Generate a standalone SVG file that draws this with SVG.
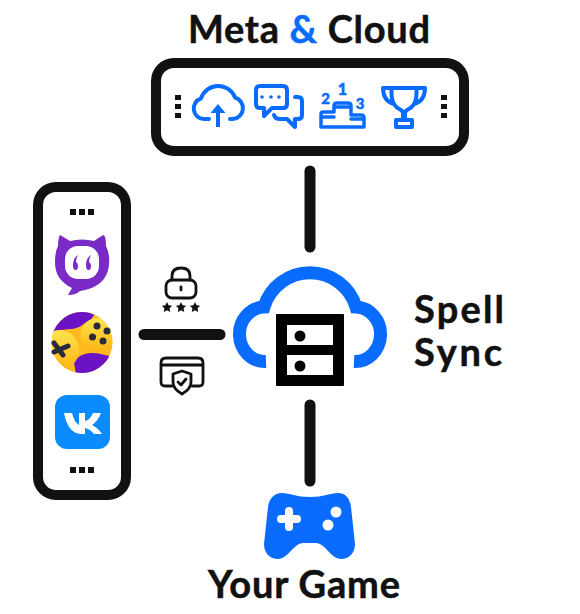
<svg xmlns="http://www.w3.org/2000/svg" width="580" height="614" viewBox="0 0 580 614">
<style>
.t{font-family:"Lato","Liberation Sans",sans-serif;font-weight:700;fill:#111;font-size:38px;stroke:#111;stroke-width:.5}
.box{fill:#fff;stroke:#111;stroke-width:10}
.c{stroke:#111;stroke-width:11;stroke-linecap:round;fill:none}
.b{fill:none;stroke:#0a6cff;stroke-width:4;stroke-linecap:round;stroke-linejoin:round}
.k{fill:none;stroke:#111;stroke-width:2.800;stroke-linecap:round;stroke-linejoin:round}
.d{fill:#111}
.n{font-family:"Lato","Liberation Sans",sans-serif;font-weight:900;font-size:15px;fill:#0a6cff;stroke:#0a6cff;stroke-width:.5;text-anchor:middle}
</style>
<defs>
<clipPath id="gc"><circle cx="82" cy="342.500" r="30.500"/></clipPath>
<linearGradient id="y1" x1="0" y1="0" x2="0" y2="1"><stop offset="0" stop-color="#ffe34d"/><stop offset="1" stop-color="#ffb414"/></linearGradient>
</defs>
<rect width="580" height="614" fill="#fff"/>
<g id="connectors">
<path class="c" d="M310 171V247M144 334.500H220M310 405V481"/>
</g>
<g id="meta-cloud">
<text class="t" x="188" y="43" textLength="242" lengthAdjust="spacing">Meta <tspan fill="#0a6cff" stroke="#0a6cff">&amp;</tspan> Cloud</text>
<rect class="box" x="156" y="63" width="308" height="88" rx="18"/>
<path class="d" d="M175 95h6v5h-6zM175 104h6v5h-6zM175 113h6v5h-6zM441 95h6v5h-6zM441 104h6v5h-6zM441 113h6v5h-6z"/>
<g id="icon-upload"><path class="b" d="M209 119H204A10.500 10.500 0 0 1 201 98.500A18 18 0 0 1 235 97.500A11 11 0 0 1 233 119H230"/><path class="b" style="stroke-linecap:butt" d="M218 127V110"/><path fill="#0a6cff" d="M218 104L225.500 113H210.500Z"/></g>
<g id="icon-chat"><path class="b" d="M260 86H283Q287 86 287 90V104Q287 108 283 108H272L264 116V108H260Q256 108 256 104V90Q256 86 260 86Z"/><path class="b" d="M295 97H298Q302 97 302 101V115Q302 119 298 119H295V127L287 119H280Q275 119 274 115"/><circle cx="262" cy="97" r="1.800" fill="#0a6cff"/><circle cx="271" cy="97" r="1.800" fill="#0a6cff"/><circle cx="279" cy="97" r="1.800" fill="#0a6cff"/></g>
<g id="icon-podium"><path class="b" style="stroke-width:3.500" d="M321 127V114Q321 112 323 112H334V106Q334 103 337 103H348Q351 103 351 106V115H361Q364 115 364 118V127ZM321 117H334M351 119H364M336 107H349"/><text class="n" x="342.500" y="95" style="font-size:16px">1</text><text class="n" x="325.500" y="104">2</text><text class="n" x="360" y="109">3</text></g>
<g id="icon-trophy"><path class="b" d="M383 88H425Q425 101 414 104M383 88Q383 101 394 104M391.500 88V94Q391.500 106 401 110L403 112V120M416.500 88V94Q416.500 106 407 110L405 112V120M396 120H412V127H396Z"/></g>
</g>
<g id="sources">
<rect class="box" x="38" y="187" width="88" height="308" rx="18"/>
<path class="d" d="M70 209h6v6h-6zM79 209h6v6h-6zM88 209h6v6h-6zM70 467h6v6h-6zM79 467h6v6h-6zM88 467h6v6h-6z"/>
<g id="app-cat"><path fill="#7a2bc7" d="M60 235L70 241Q82 238 94 241L103 235Q106 235 106 246Q110 254 109 264C108 282 94 289 80 291Q76 295 68 295L72 288C60 282 55 274 55 262Q55 252 58 246Q58 238 60 235Z"/><rect x="65" y="246" width="34" height="33" rx="13" fill="#fff"/><path fill="#7a2bc7" d="M78 255Q73 258 73 265Q73 270 75.500 270Q78 270 78 266Q78 263 76 262Q76 258 78 255ZM91 255Q86 258 86 265Q86 270 88.500 270Q91 270 91 266Q91 263 89 262Q89 258 91 255Z"/></g>
<g id="app-game"><g clip-path="url(#gc)"><rect x="50" y="310" width="64" height="65" fill="#ffb81f"/><path fill="#6a12c4" d="M50 333L52 310H96Q92 322 85 323Q78 329 70 329Q60 329 50 333Z"/><path fill="#6a12c4" d="M76 375L74 362Q78 356 85 354Q96 351 114 358V375Z"/><circle cx="59" cy="350" r="20" fill="url(#y1)"/><circle cx="97.500" cy="335" r="17" fill="url(#y1)"/></g><path stroke="#2a2a3a" stroke-width="5" stroke-linecap="round" d="M54 343L63 355M68 346L54 352"/><g fill="#2a2a3a"><circle cx="97" cy="326" r="3.500"/><circle cx="107" cy="331" r="3.500"/><circle cx="92.500" cy="337" r="3.500"/><circle cx="103" cy="341" r="3.500"/></g></g>
<g id="app-vk"><rect x="55" y="395" width="55" height="54" rx="12" fill="#0a8cff"/><path fill="#fff" d="M64 413H72Q74 422 79 425V413H85V421Q90 420 93 413H101Q98 421 92 425Q98 428 102 434H94Q90 429 85 428V434H82Q68 434 64 413Z"/></g>
</g>
<g id="auth-lock"><path class="k" d="M172 280V276Q172 268 181 268Q190 268 190 276V280"/><rect class="k" x="166" y="280" width="30" height="18" rx="6"/><path class="k" d="M181 287V290"/><g class="d"><path d="M167 302l1.600 3.300 3.600.5-2.600 2.500.6 3.600-3.200-1.700-3.200 1.700.6-3.600-2.600-2.500 3.600-.5z"/><path d="M181 302l1.600 3.300 3.600.5-2.600 2.500.6 3.600-3.200-1.700-3.200 1.700.6-3.600-2.600-2.500 3.600-.5z"/><path d="M195 302l1.600 3.300 3.600.5-2.600 2.500.6 3.600-3.200-1.700-3.200 1.700.6-3.600-2.600-2.500 3.600-.5z"/></g></g>
<g id="auth-card"><path class="k" d="M172 386H165Q161 386 161 382V363Q161 358 166 358H198Q203 358 203 363V382Q203 386 199 386H192M161 365H203"/><path class="k" d="M182 371L191 374V382Q191 389 182 394Q173 389 173 382V374ZM178 382L181 385L186 379"/></g>
<g id="spell-sync">
<path fill="none" stroke="#0a6cff" stroke-width="13" d="M266 361.500A25.500 27.200 0 0 1 264 307A48 48 0 0 1 356 307A25.500 27.200 0 0 1 354 361.500"/>
<rect x="276" y="314" width="68" height="72" rx="1" fill="#000"/>
<rect x="287" y="325" width="46" height="20" fill="#fff"/><rect x="287" y="355" width="46" height="20" fill="#fff"/>
<circle cx="300" cy="336" r="5.500" fill="#000"/><circle cx="300" cy="366" r="5.500" fill="#000"/>
<text class="t" x="414" y="323" textLength="90" lengthAdjust="spacing">Spell</text>
<text class="t" x="414" y="366" textLength="88" lengthAdjust="spacing">Sync</text>
</g>
<g id="your-game">
<path fill="#0a6cff" d="M282 493C290 493 296 497 310 497C324 497 330 493 338 493C346 493 350 499 351 507L355 544C355 553 349 559 341 559C331 559 325 543 316 543H303C294 543 288 559 278 559C270 559 264 553 264 544L268 507C269 499 274 493 282 493Z"/>
<path stroke="#fff" stroke-width="8" stroke-linecap="round" d="M289 511V527M281 519H297"/>
<circle cx="336" cy="512" r="5.500" fill="#fff"/><circle cx="328" cy="525" r="5.500" fill="#fff"/>
<text class="t" x="208" y="598" textLength="192" lengthAdjust="spacing">Your Game</text>
</g>
</svg>
